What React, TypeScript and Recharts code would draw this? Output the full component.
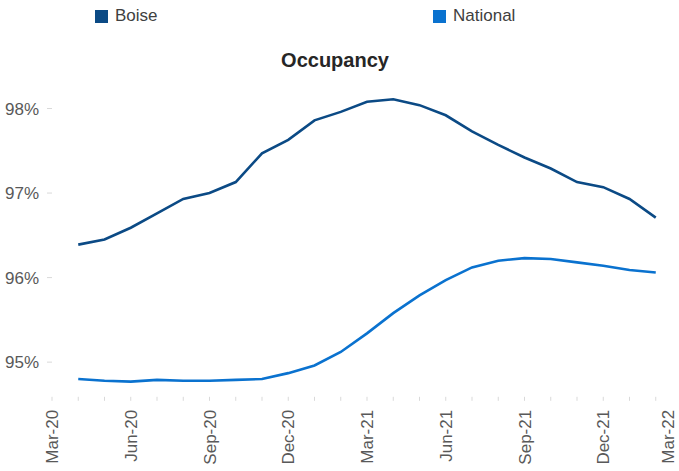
import React from 'react';
import { LineChart, Line, XAxis, YAxis, Legend } from 'recharts';

const allMonths = [
  'Mar-20', 'Apr-20', 'May-20', 'Jun-20', 'Jul-20', 'Aug-20', 'Sep-20', 'Oct-20', 'Nov-20', 'Dec-20',
  'Jan-21', 'Feb-21', 'Mar-21', 'Apr-21', 'May-21', 'Jun-21', 'Jul-21', 'Aug-21', 'Sep-21', 'Oct-21',
  'Nov-21', 'Dec-21', 'Jan-22', 'Feb-22', 'Mar-22',
];
const categories = allMonths.slice(1, 24);
const boise = [
  96.39, 96.45, 96.59, 96.76, 96.93, 97.0, 97.13, 97.47, 97.63, 97.86, 97.96, 98.08,
  98.11, 98.04, 97.92, 97.73, 97.57, 97.42, 97.29, 97.13, 97.07, 96.93, 96.71,
];
const national = [
  94.8, 94.78, 94.77, 94.79, 94.78, 94.78, 94.79, 94.8, 94.87, 94.96, 95.12, 95.34,
  95.58, 95.79, 95.97, 96.12, 96.2, 96.23, 96.22, 96.18, 96.14, 96.09, 96.06,
];
const yTicks = [95, 96, 97, 98];
const labelEvery = 3;

const data = categories.map((c, i) => ({
  month: c,
  x: allMonths.indexOf(c),
  boise: boise[i],
  national: national[i],
}));
const xTicks = allMonths.map((_, i) => i);

const BOISE = '#0B4A85';
const NATIONAL = '#0A72CF';
const FONT = '"Liberation Sans", Arial, sans-serif';

const MonthTick = (props: any) => {
  const { x, y, payload } = props;
  const v = payload.value;
  if (v % labelEvery !== 0) return <g />;
  const tx = Math.min(x, 668);
  return (
    <text
      x={tx}
      y={y}
      transform={`rotate(-90, ${tx}, ${y})`}
      textAnchor="end"
      dy="0.36em"
      fill="#595959"
      fontSize={17}
      fontFamily={FONT}
    >
      {allMonths[v]}
    </text>
  );
};

const LegendContent = (props: any) => {
  const { payload } = props;
  const lefts = [95, 433];
  return (
    <div style={{ position: 'relative', height: 26, width: 679 }}>
      {(payload || []).map((p: any, i: number) => (
        <div key={p.value} style={{ position: 'absolute', left: lefts[i], top: 0, height: 26 }}>
          <div style={{ position: 'absolute', left: 0, top: 10, width: 13, height: 13, background: p.color }} />
          <div
            style={{
              position: 'absolute',
              left: 20,
              top: 6,
              fontSize: 17,
              lineHeight: '20px',
              color: '#404040',
              whiteSpace: 'nowrap',
              fontFamily: FONT,
            }}
          >
            {p.value}
          </div>
        </div>
      ))}
    </div>
  );
};

export default function App() {
  return (
    <div
      style={{
        position: 'absolute',
        left: 0,
        top: 0,
        width: 679,
        height: 471,
        overflow: 'hidden',
        background: '#fff',
        fontFamily: FONT,
      }}
    >
      <div
        style={{
          position: 'absolute',
          top: 48,
          left: 0,
          width: 670,
          textAlign: 'center',
          fontSize: 20,
          lineHeight: '24px',
          fontWeight: 'bold',
          color: '#262626',
          fontFamily: FONT,
        }}
      >
        Occupancy
      </div>
      <LineChart
        width={690}
        height={471}
        data={data}
        margin={{ top: 65.6, right: 8, left: 0, bottom: 4.2 }}
      >
        <Legend
          verticalAlign="top"
          wrapperStyle={{ top: 0, left: 0, width: 679 }}
          content={<LegendContent />}
        />
        <XAxis
          type="number"
          dataKey="x"
          domain={[0, 24]}
          ticks={xTicks}
          interval={0}
          axisLine={false}
          tickLine={{ stroke: '#d9d9d9' }}
          tickSize={4}
          tickMargin={9}
          height={70}
          tick={<MonthTick />}
        />
        <YAxis
          type="number"
          domain={[94.59, 98.2]}
          ticks={yTicks}
          width={52}
          axisLine={false}
          tickLine={{ stroke: '#d9d9d9' }}
          tickSize={5}
          tickMargin={8}
          tick={{ fill: '#595959', fontSize: 17, fontFamily: FONT }}
          tickFormatter={(v: number) => `${v}%`}
        />
        <Line
          type="linear"
          dataKey="boise"
          name="Boise"
          stroke={BOISE}
          strokeWidth={2.6}
          dot={false}
          isAnimationActive={false}
        />
        <Line
          type="linear"
          dataKey="national"
          name="National"
          stroke={NATIONAL}
          strokeWidth={2.6}
          dot={false}
          isAnimationActive={false}
        />
      </LineChart>
    </div>
  );
}
